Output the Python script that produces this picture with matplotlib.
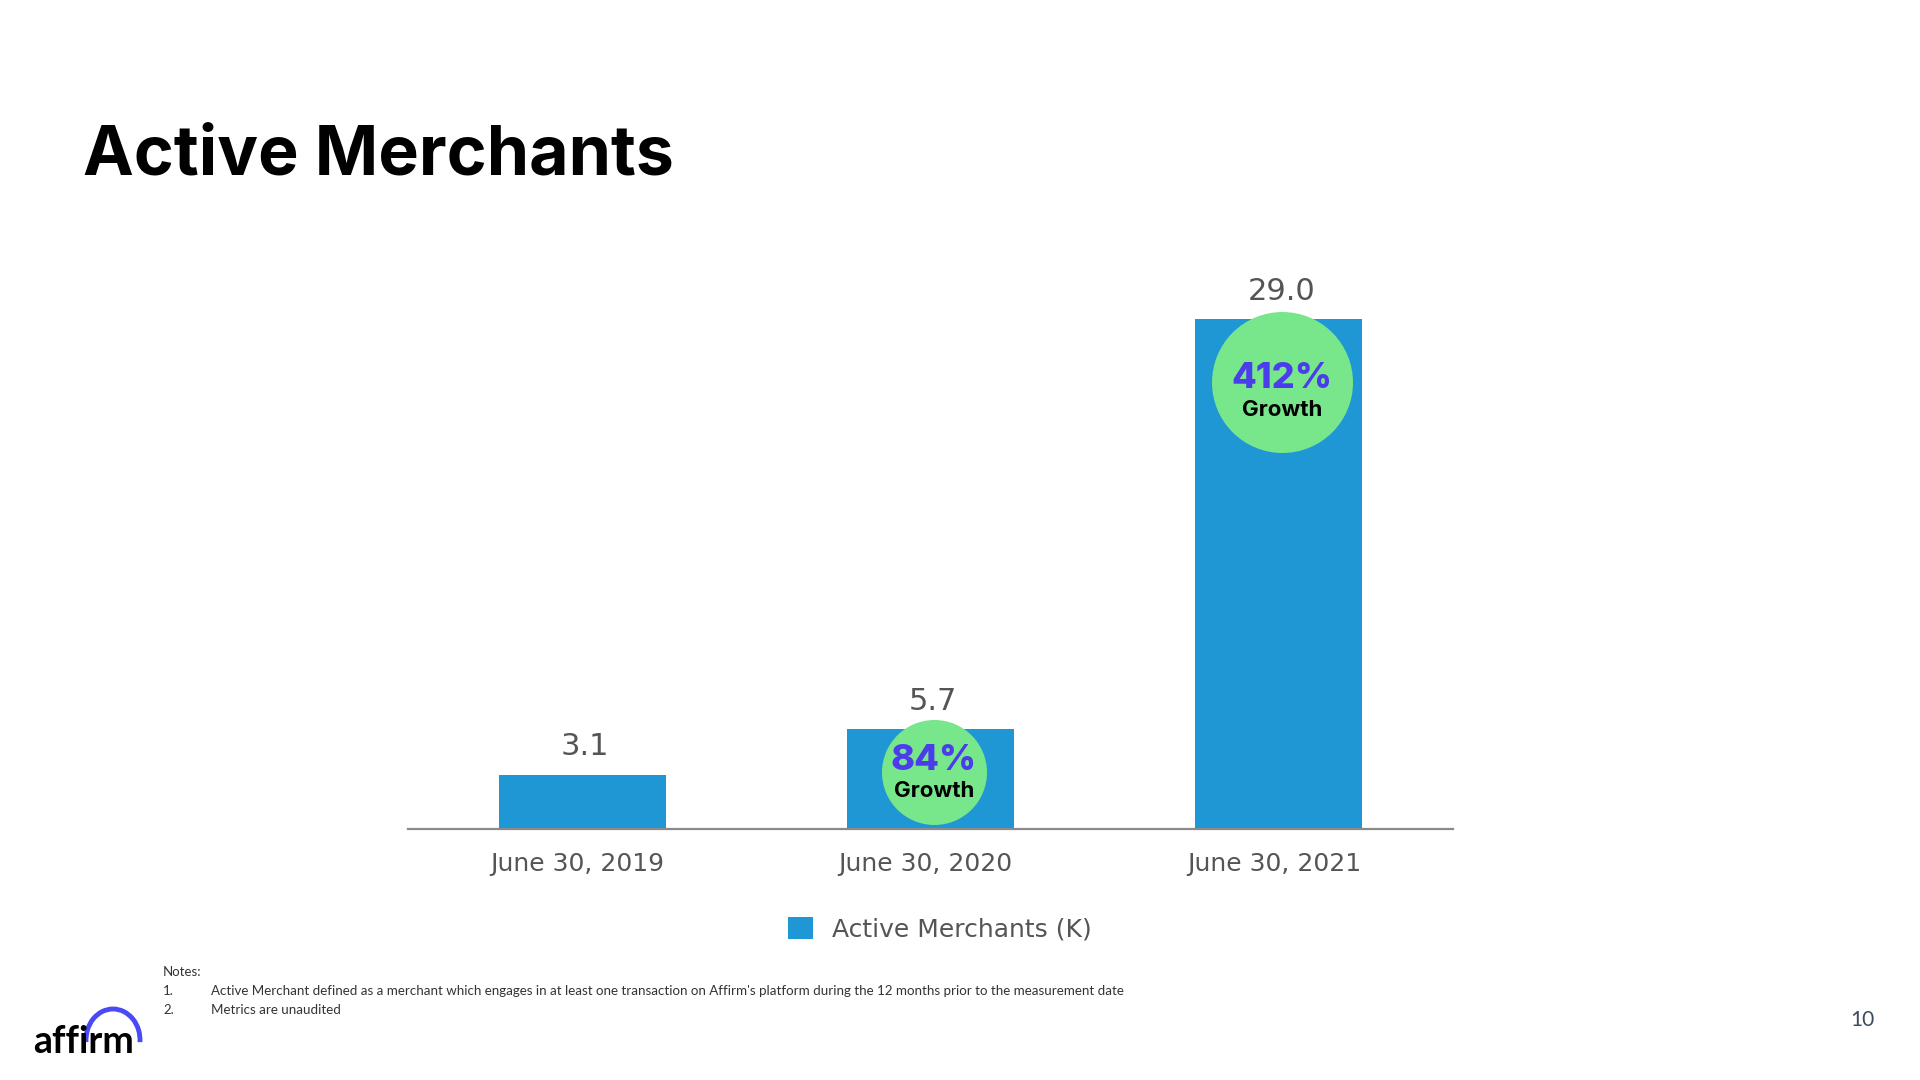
import matplotlib
matplotlib.use("Agg")
import matplotlib.pyplot as plt
from matplotlib.patches import Arc
from matplotlib.transforms import ScaledTranslation

# ---- data ----
categories = ["June 30, 2019", "June 30, 2020", "June 30, 2021"]
values = [3.1, 5.7, 29.0]
value_labels = ["3.1", "5.7", "29.0"]
growth_labels = ["", "84%", "412%"]
series_name = "Active Merchants (K)"
title = "Active Merchants"
notes = ["Notes:",
         "Active Merchant defined as a merchant which engages in at least one transaction on Affirm's platform during the 12 months prior to the measurement date",
         "Metrics are unaudited"]
page_number = "10"

# ---- style ----
BAR = "#2097D5"
GREEN = "#78E68B"
PURPLE = "#4B3DEB"
GRAY = "#555555"
W, H = 1920, 1080

fig = plt.figure(figsize=(19.2, 10.8), dpi=100)
fig.patch.set_facecolor("white")

ax = fig.add_axes([408 / W, 251 / H, (1453 - 408) / W, 580 / H])
ymax = 33.0
x = list(range(len(categories)))
ax.bar(x, values, width=0.48, color=BAR, label=series_name, zorder=2)
ax.set_xlim(-0.5, len(categories) - 0.5)
ax.set_ylim(0, ymax)

for s in ["top", "right", "left"]:
    ax.spines[s].set_visible(False)
ax.spines["bottom"].set_color("#8a8a8a")
ax.spines["bottom"].set_linewidth(1.6)
ax.set_yticks([])
ax.set_xticks(x)
ax.set_xticklabels(categories, fontsize=18, color=GRAY, family="DejaVu Sans")
ax.tick_params(axis="x", length=0, pad=16.5)
shift = ScaledTranslation(-5 / 100, 0, fig.dpi_scale_trans)
for lab in ax.get_xticklabels():
    lab.set_transform(lab.get_transform() + shift)

# value labels
for xi, v, lab in zip(x, values, value_labels):
    ax.annotate(lab, (xi, v), xytext=(2, 20), textcoords="offset points",
                ha="center", va="center", fontsize=22, color=GRAY, family="DejaVu Sans")

# growth circles (offsets in pixels below bar top, sizes in px diameter)
circle_off_px = [0, 43, 63]
circle_diam_px = [0, 105, 141]
pct_off_px = [0, 32, 59]
growth_off_px = [0, 62, 91]
ppu = (580.0) / ymax  # pixels per data unit
for xi, v, g, co, cd, po, go in zip(x, values, growth_labels, circle_off_px,
                                     circle_diam_px, pct_off_px, growth_off_px):
    if not g:
        continue
    d_pt = cd * 72 / 100
    ax.scatter([xi + 0.01], [v - co / ppu], s=d_pt ** 2, color=GREEN, zorder=3,
               linewidths=0, clip_on=False)
    ax.annotate(g, (xi + 0.01, v), xytext=(0, -po * 0.72), textcoords="offset points",
                ha="center", va="center", fontsize=26, color=PURPLE,
                family="Inter", fontweight="heavy", zorder=4)
    ax.annotate("Growth", (xi + 0.01, v), xytext=(0, -go * 0.72), textcoords="offset points",
                ha="center", va="center", fontsize=16, color="black",
                family="Inter", fontweight="bold", zorder=4)

# legend
leg = ax.legend(loc="center", bbox_to_anchor=(939.5 / W, 1 - 929 / H),
                bbox_transform=fig.transFigure, frameon=False,
                prop={"family": "DejaVu Sans", "size": 18},
                handlelength=1.0, handleheight=1.0, handletextpad=0.75)
for t in leg.get_texts():
    t.set_color(GRAY)

# title
fig.text(83 / W, 1 - 175 / H, title, fontsize=49, fontweight="bold",
         family="Inter", color="black", va="baseline", ha="left")

# notes
nfam = "Lato"
fig.text(163 / W, 1 - 972 / H, notes[0], fontsize=9.5, family=nfam, color="#333333", va="center")
for i, line in enumerate(notes[1:]):
    yy = 1 - (991 + 19 * i) / H
    fig.text(163 / W, yy, f"{i + 1}.", fontsize=9.5, family=nfam, color="#333333", va="center")
    fig.text(211 / W, yy, line, fontsize=9.6, family=nfam, color="#333333", va="center")

# page number
fig.text(1862 / W, 1 - 1020 / H, page_number, fontsize=15, family="Lato",
         color="#3C4A5E", ha="center", va="center")

# logo
fig.text(33 / W, 1 - 1053 / H, "affirm", fontsize=27, family="Lato", fontweight="bold",
         color="black", ha="left", va="baseline")
arc = Arc((113 / W, 1 - 1040 / H), 54 / W, 62 / H, theta1=-8, theta2=188,
          color="#4A4AF4", linewidth=3.5, transform=fig.transFigure)
fig.add_artist(arc)

fig.savefig("out.png", dpi=100, facecolor="white")
